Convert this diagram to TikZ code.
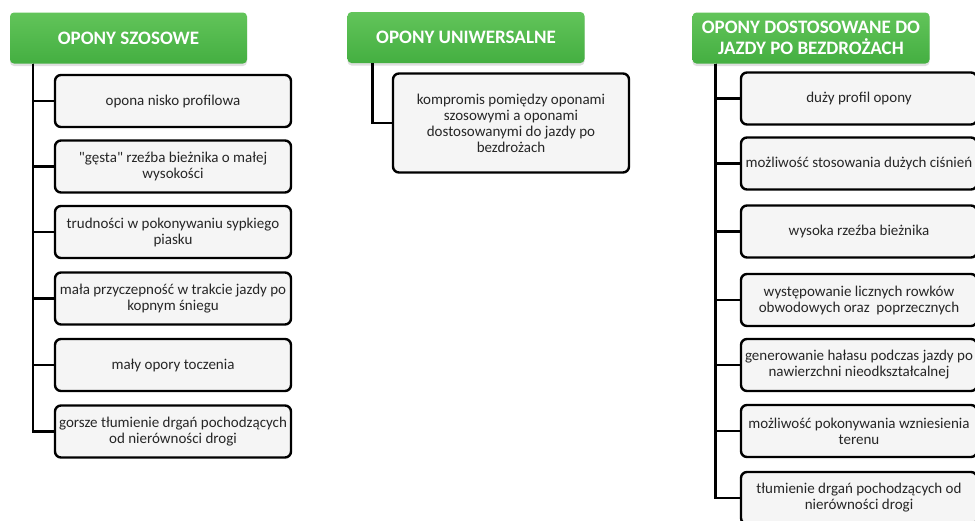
\documentclass[tikz,border=0pt]{standalone}
\usepackage{fontspec}
\setmainfont[Ligatures=TeXOff]{Carlito}
\usetikzlibrary{shadows}
\definecolor{hdrtop}{HTML}{62C45A}
\definecolor{hdrbot}{HTML}{44AF41}
\definecolor{boxfill}{HTML}{F5F5F5}
\definecolor{txt}{HTML}{262626}
\tikzset{
  hdr/.style={rounded corners=4pt, top color=hdrtop, bottom color=hdrbot, draw=none,
    minimum width=237pt, minimum height=51pt, text=white, align=center,
    font=\fontsize{19}{21}\selectfont\bfseries, inner sep=0pt,
    drop shadow={opacity=0.25, shadow xshift=0pt, shadow yshift=-2.5pt}},
  item/.style={rounded corners=6pt, draw=black, line width=2.4pt, fill=boxfill,
    minimum width=236pt, minimum height=52pt, align=center,
    text=txt, font=\fontsize{15}{16}\selectfont, inner sep=0pt},
  conn/.style={draw=black, line width=2.6pt}
}
\begin{document}
\begin{tikzpicture}[x=1pt,y=-1pt]
\useasboundingbox (0,0) rectangle (975,520);
\clip (0,0) rectangle (975,520);
\fill[white] (0,0) rectangle (975,520);
% headers
\node[hdr] (h1) at (128.5,38) {OPONY SZOSOWE};
\node[hdr] (h2) at (466,37.5) {OPONY UNIWERSALNE};
\node[hdr] (h3) at (811,38) {OPONY DOSTOSOWANE DO\\JAZDY PO BEZDROŻACH};
% connector tops
\coordinate (t1) at ([xshift=23pt]h1.south west);
\coordinate (t2) at ([xshift=25pt]h2.south west);
\coordinate (t3) at ([xshift=23pt]h3.south west);
% left column
\node[item] (a1) at (173,101) {opona nisko profilowa};
\node[item] (a2) at (173,166.5) {"gęsta" rzeźba bieżnika o małej\\wysokości};
\node[item] (a3) at (173,232) {trudności w pokonywaniu sypkiego\\piasku};
\node[item] (a4) at (173,298.5) {mała przyczepność w trakcie jazdy po\\kopnym śniegu};
\node[item] (a5) at (173,365) {mały opory toczenia};
\node[item] (a6) at (173,431.5) {gorsze tłumienie drgań pochodzących\\od nierówności drogi};
% middle
\node[item, minimum height=99pt] (m1) at (511,123) {kompromis pomiędzy oponami\\szosowymi a oponami\\dostosowanymi do jazdy po\\bezdrożach};
% right column
\node[item] (c1) at (859,98.5) {duży profil opony};
\node[item] (c2) at (859,163.5) {możliwość stosowania dużych ciśnień};
\node[item] (c3) at (859,231.5) {wysoka rzeźba bieżnika};
\node[item] (c4) at (859,300) {występowanie licznych rowków\\obwodowych oraz\ \ poprzecznych};
\node[item] (c5) at (859,365) {generowanie hałasu podczas jazdy po\\nawierzchni nieodkształcalnej};
\node[item] (c6) at (859,431) {możliwość pokonywania wzniesienia\\terenu};
\node[item] (c7) at (859,498) {tłumienie drgań pochodzących od\\nierówności drogi};
% connectors
\foreach \b in {a1,a2,a3,a4,a5,a6} \draw[conn] (t1) |- (\b.west);
\draw[conn] (t2) |- (m1.west);
\foreach \b in {c1,c2,c3,c4,c5,c6,c7} \draw[conn] (t3) |- (\b.west);
\end{tikzpicture}
\end{document}
